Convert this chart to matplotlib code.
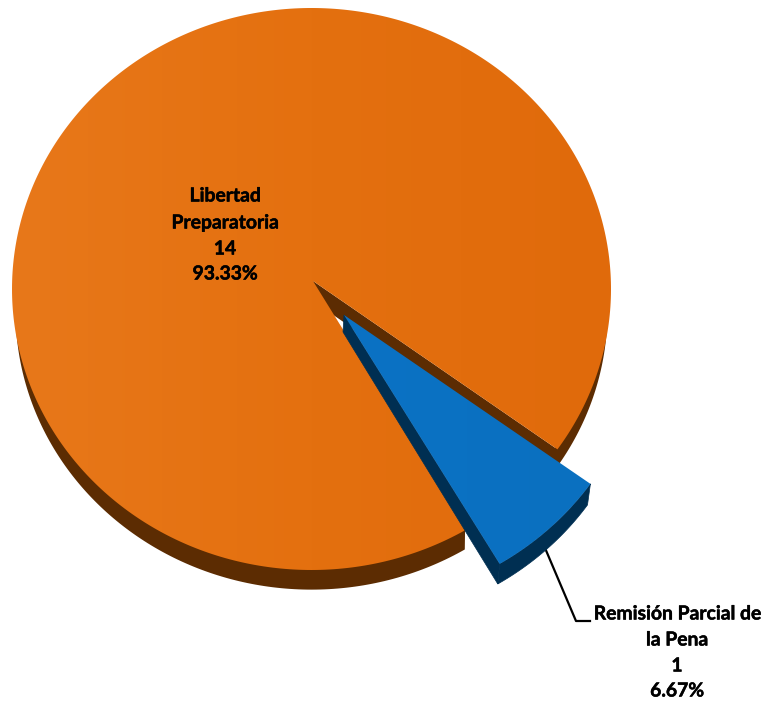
import numpy as np
import matplotlib
matplotlib.use("Agg")
import matplotlib.pyplot as plt
import matplotlib.patheffects as pe
from matplotlib.patches import Polygon
from matplotlib.colors import LinearSegmentedColormap

categories = ["Libertad\nPreparatoria", "Remisión Parcial de\nla Pena"]
values = [14, 1]
percent_labels = ["93.33%", "6.67%"]

plt.rcParams["font.family"] = ["Lato", "DejaVu Sans"]
W, H = 765, 703
fig = plt.figure(figsize=(W / 100, H / 100), dpi=100, facecolor="white")
ax = fig.add_axes([0, 0, 1, 1])

CX, CY, RX, RY = 311.5, 289.0, 299.5, 281.0
DEPTH = 23.0
SHRINK = 0.988
START = -34.8            # degrees, anticlockwise on screen
APEX = (313.0, 281.0)
SHIFT = (33.0, 34.5)     # exploded slice offset

frac = np.array(values, float) / sum(values)
sweeps = 360 * frac


def arc(a0, a1, dx=0.0, dy=0.0, scale=1.0, n=400):
    t = np.radians(np.linspace(a0, a1, n))
    return np.column_stack([CX + dx + RX * scale * np.cos(t),
                            CY + dy - RY * scale * np.sin(t)])


def grad_fill(poly_pts, colors, zorder):
    """Fill a polygon with a soft horizontal gradient."""
    cmap = LinearSegmentedColormap.from_list("g", colors)
    patch = Polygon(poly_pts, closed=True, facecolor="none", edgecolor="none",
                    transform=ax.transData)
    ax.add_patch(patch)
    xs, ys = poly_pts[:, 0], poly_pts[:, 1]
    g = np.linspace(0, 1, 256).reshape(1, -1)
    im = ax.imshow(g, cmap=cmap, extent=[xs.min(), xs.max(), ys.max(), ys.min()],
                   aspect="auto", zorder=zorder, interpolation="bilinear")
    im.set_clip_path(patch)


# --- large slice
a0, a1 = START, START + sweeps[0]
top_o = arc(a0, a1)
bot_o = arc(a0, a1, dy=DEPTH, scale=SHRINK)
inner_o = arc(a0, a1, scale=0.99)   # keeps the wall from fringing the top edge
wall_o = np.vstack([inner_o, bot_o[::-1]])
ax.add_patch(Polygon(wall_o, closed=True, fc="#5C2C02", ec="none", zorder=1))
cut = np.array([APEX, top_o[0], top_o[0] + (0, 20), (APEX[0], APEX[1] + 20)])
ax.add_patch(Polygon(cut, closed=True, fc="#5C2C02", ec="none", zorder=1))
face_o = np.vstack([[APEX], top_o])
grad_fill(face_o, ["#E8781A", "#E4700F", "#E06A0B"], 2)

# --- small slice
b0, b1 = START - sweeps[1], START
apex_b = (APEX[0] + SHIFT[0] - 2, APEX[1] + SHIFT[1] - 0.5)
top_b = arc(b0, b1, SHIFT[0], SHIFT[1])
bot_b = arc(b0, b1, SHIFT[0], SHIFT[1] + DEPTH, SHRINK)

# leader line sits behind the slice
ax.plot([545, 576, 590], [548, 621, 621], color="black", lw=1.6, zorder=3,
        solid_joinstyle="round")

ax.add_patch(Polygon(np.vstack([top_b, bot_b[::-1]]), closed=True, fc="#002F52",
                     ec="#002F52", lw=0.5, zorder=4))
ax.add_patch(Polygon(np.array([apex_b, top_b[0], bot_b[0],
                               (apex_b[0] - 1, apex_b[1] + 17)]), closed=True,
                     fc="#002F52", ec="#002F52", lw=0.5, zorder=4))
face_b = np.vstack([[apex_b], top_b])
grad_fill(face_b, ["#0B72C4", "#0A70C0"], 5)

# --- labels
font = dict(fontsize=13.9, fontweight="bold", color="black", ha="center",
            va="center", zorder=6,
            path_effects=[pe.withStroke(linewidth=0.35, foreground="black")])
big = categories[0].split("\n") + [str(values[0]), percent_labels[0]]
for s, y in zip(big, [196, 223, 249, 274]):
    ax.text(225, y, s, **font)
small = categories[1].split("\n") + [str(values[1]), percent_labels[1]]
for s, y in zip(small, [614, 640, 666, 691]):
    ax.text(677, y, s, **font)

ax.set_xlim(0, W)
ax.set_ylim(H, 0)
ax.axis("off")
fig.savefig("out.png", dpi=100, facecolor="white")
